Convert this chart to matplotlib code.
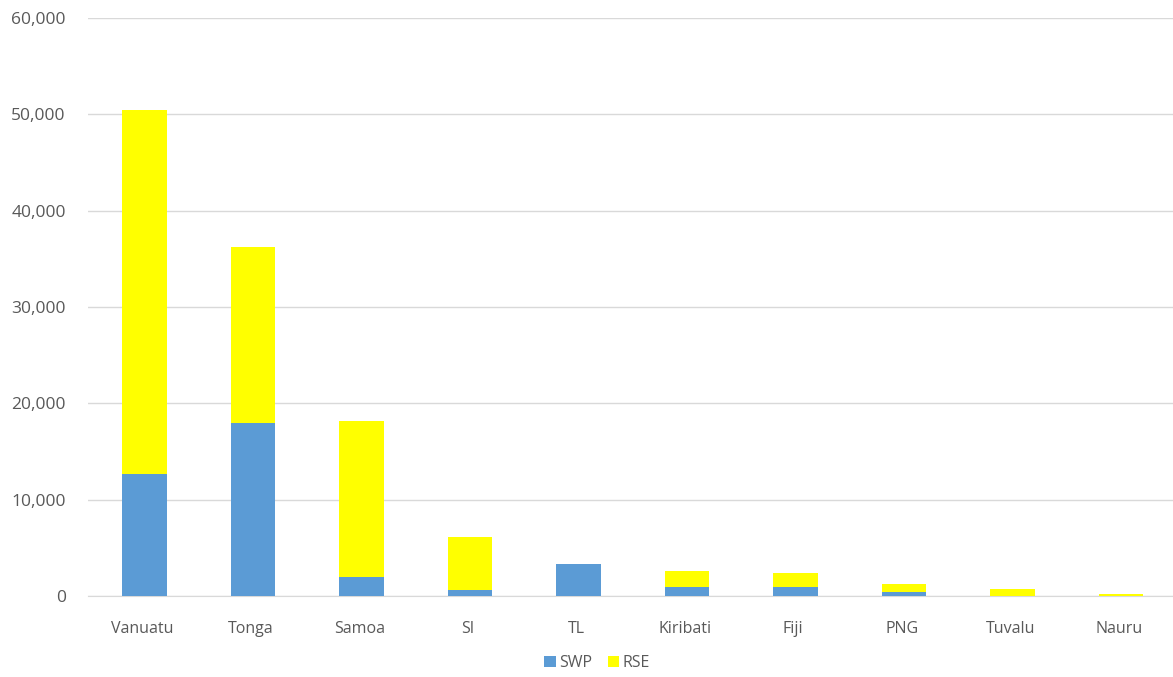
import numpy as np
import matplotlib.pyplot as plt
from matplotlib.ticker import FuncFormatter

countries = ['Vanuatu', 'Tonga', 'Samoa', 'SI', 'TL', 'Kiribati', 'Fiji', 'PNG', 'Tuvalu', 'Nauru']
swp = [12700, 18000, 1970, 620, 3350, 940, 940, 450, 0, 0]
rse = [37700, 18250, 16200, 5510, 0, 1680, 1400, 770, 760, 240]

plt.rcParams['font.family'] = ['Open Sans', 'DejaVu Sans']

fig = plt.figure(figsize=(11.73, 6.77), dpi=100)
ax = fig.add_axes([88 / 1173, 81 / 677, 1 - 88 / 1173, (596 - 18) / 677])

x = np.arange(len(countries))
ax.bar(x + 0.02, swp, width=0.41, color='#5B9BD5', label='SWP', zorder=3)
ax.bar(x + 0.02, rse, width=0.41, bottom=swp, color='#FFFF00', label='RSE', zorder=3)

ax.set_xlim(-0.5, len(countries) - 0.5)
ax.set_ylim(0, 60000)
ax.set_yticks(np.arange(0, 60001, 10000))
ax.yaxis.set_major_formatter(FuncFormatter(lambda v, p: f'{int(v):,}'))
ax.set_xticks(x)
ax.set_xticklabels(countries)
ax.grid(axis='y', color='#D9D9D9', linewidth=1, zorder=0)
for s in ['top', 'right', 'left']:
    ax.spines[s].set_visible(False)
ax.spines['bottom'].set_color('#D9D9D9')
ax.tick_params(axis='x', length=0, labelsize=11.5, labelcolor='#595959', pad=18)
ax.tick_params(axis='y', length=0, labelsize=12.5, labelcolor='#595959', pad=16)

fig.legend(loc='center', bbox_to_anchor=(597 / 1173, 1 - 663 / 677), ncol=2,
           frameon=False, fontsize=11.5, handlelength=0.7, handleheight=0.7,
           handletextpad=0.2, columnspacing=1.0, labelcolor='#595959')

fig.savefig('out.png', dpi=100)
